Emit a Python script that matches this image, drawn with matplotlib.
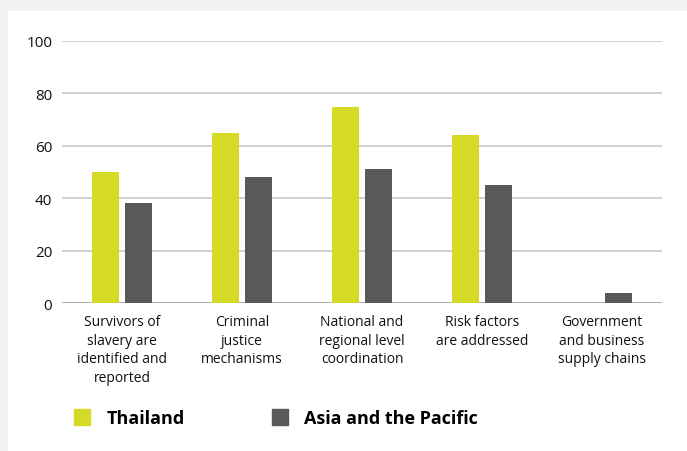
import matplotlib
matplotlib.use("Agg")
import matplotlib.pyplot as plt
import numpy as np
from matplotlib.patches import Rectangle
from matplotlib.lines import Line2D

categories = ["Survivors of\nslavery are\nidentified and\nreported",
              "Criminal\njustice\nmechanisms",
              "National and\nregional level\ncoordination",
              "Risk factors\nare addressed",
              "Government\nand business\nsupply chains"]
thailand = [50, 65, 75, 64, 0]
asia_pacific = [38, 48, 51, 45, 4]
series_names = ["Thailand", "Asia and the Pacific"]
yticks = [0, 20, 40, 60, 80, 100]

lime = "#d4da26"
dark = "#58595b"

plt.rcParams['font.family'] = ['Open Sans', 'DejaVu Sans']

fig = plt.figure(figsize=(6.87, 4.52), dpi=100)
fig.patch.set_facecolor("#f2f2f0")
# white panel
fig.patches.append(Rectangle((8/687, 0), 1, 1 - 12/452, transform=fig.transFigure,
                             facecolor="white", edgecolor="none", zorder=-10))

ax = fig.add_axes([62/687, 1 - 304/452, 600/687, 262/452])
ax.set_facecolor("none")

x = np.arange(len(categories))
w = 0.225
ax.bar(x - 0.1375, thailand, w, color=lime, zorder=3)
ax.bar(x + 0.1375, asia_pacific, w, color=dark, zorder=3)

ax.set_xlim(-0.5, len(categories) - 0.5)
ax.set_ylim(0, 100)
ax.set_yticks(yticks)
ax.set_yticklabels([str(t) for t in yticks], fontsize=11, color="#111111")
ax.set_xticks(x)
ax.set_xticklabels(categories, fontsize=10, color="#111111", linespacing=1.32)
ax.tick_params(length=0)
ax.tick_params(axis='y', pad=7)
ax.tick_params(axis='x', pad=8)
ax.grid(axis='y', color="#c8c8c8", linewidth=1.2, zorder=0)
for s in ax.spines.values():
    s.set_visible(False)
ax.axhline(0, color="#a8a8a8", linewidth=1.2, zorder=2)

handles = [Line2D([], [], marker='s', linestyle='none', markersize=11, color=lime),
           Line2D([], [], marker='s', linestyle='none', markersize=11, color=dark)]
fig.legend(handles, series_names, loc='center left', bbox_to_anchor=(57/687, 1 - 419/452),
           ncol=2, frameon=False, handlelength=1, handletextpad=0.86, columnspacing=4.75,
           prop={'weight': 'bold', 'size': 13})

fig.savefig("out.png", dpi=100, facecolor=fig.get_facecolor())
